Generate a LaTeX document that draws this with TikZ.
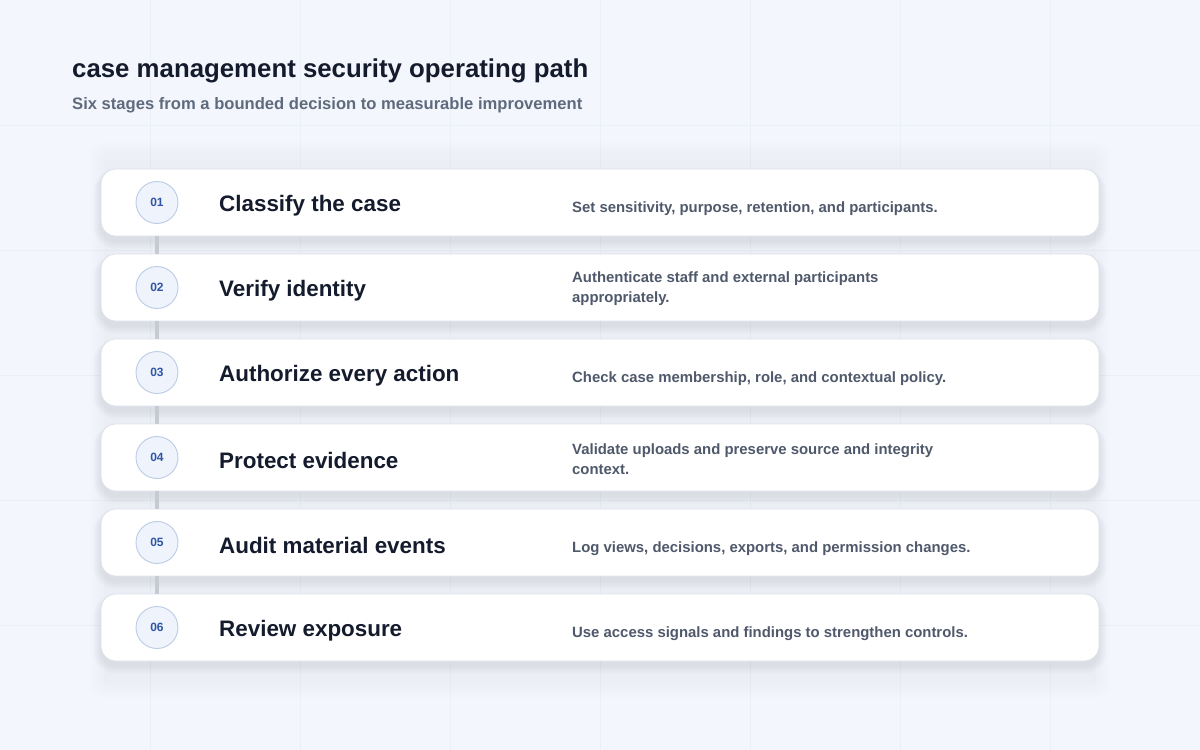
\documentclass[tikz,border=0pt]{standalone}
\usepackage{fontspec}
\setmainfont{Liberation Sans}
\usetikzlibrary{positioning}
\definecolor{bgc}{HTML}{F3F6FC}
\definecolor{gridc}{HTML}{EBEFF6}
\definecolor{panelc}{HTML}{8A94B0}
\definecolor{titlec}{HTML}{141B2D}
\definecolor{subc}{HTML}{5F6B7D}
\definecolor{descc}{HTML}{4F596B}
\definecolor{cardline}{HTML}{DDE1E9}
\definecolor{shadowc}{HTML}{4A5878}
\definecolor{circfill}{HTML}{EEF3FC}
\definecolor{circline}{HTML}{BCCBE6}
\definecolor{numc}{HTML}{2F55A4}
\definecolor{linkc}{HTML}{C6CAD3}
\tikzset{
  card/.style={draw=cardline, line width=0.8pt, fill=white, rounded corners=15pt,
    minimum width=998pt, minimum height=67pt, inner sep=0pt},
  numcirc/.style={circle, draw=circline, line width=0.9pt, fill=circfill, minimum size=42pt, inner sep=0pt,
    font=\fontsize{12}{14}\selectfont\bfseries, text=numc},
  stagetitle/.style={anchor=west, inner sep=0pt, font=\fontsize{22.4}{26}\selectfont\bfseries, text=titlec},
  stagedesc/.style={anchor=west, inner sep=0pt, align=left, font=\fontsize{14.9}{20}\selectfont\bfseries, text=descc},
  link/.style={draw=linkc, line width=3.5pt}
}
\begin{document}
\begin{tikzpicture}[x=1pt,y=-1pt]
\useasboundingbox (0,0) rectangle (1200,750);
\fill[bgc] (0,0) rectangle (1200,750);
\foreach \gx in {150,300,...,1050} \draw[gridc, line width=1pt] (\gx,0) -- (\gx,750);
\foreach \gy in {125,250,...,625} \draw[gridc, line width=1pt] (0,\gy) -- (1200,\gy);
% soft backdrop panel
\foreach \k in {0,2,...,10}{
  \fill[panelc, opacity=0.008, rounded corners=12pt] (100-\k,152-\k) rectangle (1100+\k,688+\k);
}
\fill[panelc, opacity=0.02] (104,160) rectangle (1096,684);
% title
\node[anchor=base west, inner sep=0pt, font=\fontsize{25.8}{30}\selectfont\bfseries, text=titlec] (title) at (72,77) {case management security operating path};
\node[anchor=base west, inner sep=0pt, font=\fontsize{16.6}{20}\selectfont\bfseries, text=subc] (subtitle) at (72,109) {Six stages from a bounded decision to measurable improvement};
% card shadows
\foreach \yy in {202.5,287.5,372.5,457.5,542.5,627.5}{
  \foreach \k in {1,...,8}{
    \fill[shadowc, opacity=0.011, rounded corners=15pt+\k pt] (101-\k,\yy-33.5+5-\k*0.6) rectangle (1099+\k,\yy+33.5+5+\k);
  }
}
% cards
\foreach \i/\yy/\dy/\ttl/\dsc in {
  1/202.5/6.5/Classify the case/{Set sensitivity, purpose, retention, and participants.},
  2/287.5/1.5/Verify identity/{Authenticate staff and external participants\\appropriately.},
  3/372.5/6.5/Authorize every action/{Check case membership, role, and contextual policy.},
  4/457.5/1.5/Protect evidence/{Validate uploads and preserve source and integrity\\context.},
  5/542.5/6.5/Audit material events/{Log views, decisions, exports, and permission changes.},
  6/627.5/6.5/Review exposure/{Use access signals and findings to strengthen controls.}}{
  \node[card] (card\i) at (600,\yy) {};
  \node[numcirc] (num\i) at (157,\yy) {0\i};
  \node[stagetitle] (ttl\i) at (219,\yy+3) {\ttl};
  \node[stagedesc] (dsc\i) at (572,\yy+\dy) {\dsc};
}
\foreach \a/\b in {1/2,2/3,3/4,4/5,5/6}{
  \draw[link] (num\a |- card\a.south) -- (num\b |- card\b.north);
}
\end{tikzpicture}
\end{document}
